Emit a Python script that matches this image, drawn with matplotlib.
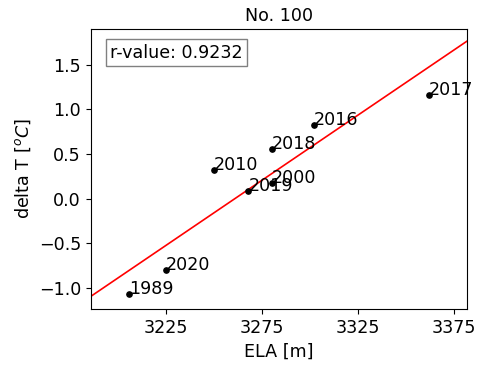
import numpy as np
import matplotlib
matplotlib.use("Agg")
import matplotlib.pyplot as plt

years = ["1989", "2020", "2010", "2019", "2000", "2018", "2016", "2017"]
ela = [3205.7, 3224.7, 3249.8, 3267.7, 3280.0, 3280.0, 3302.0, 3361.6]
delta_t = [-1.065, -0.796, 0.317, 0.082, 0.18, 0.557, 0.82, 1.163]
r_text = "r-value: 0.9232"
title = "No. 100"
xticks = [3225, 3275, 3325, 3375]

FS = 12.6
fig = plt.figure(figsize=(4.91, 3.65), dpi=100)
ax = fig.add_axes([0.185, 0.1534, 0.766, 0.767])

x = np.array(ela)
y = np.array(delta_t)
xlim = (x.min() - 20, x.max() + 20)
slope, intercept = np.polyfit(x, y, 1)
xl = np.array(xlim)
ax.plot(xl, slope * xl + intercept, color="red", lw=1.2)
ax.plot(x, y, "o", color="black", markersize=3.8)
for yr, xi, yi in zip(years, ela, delta_t):
    ax.annotate(yr, (xi, yi), fontsize=FS)

ax.set_xlim(*xlim)
ax.set_ylim(-1.235, 1.90)
ax.set_xticks(xticks)
ax.tick_params(labelsize=FS)
ax.set_xlabel("ELA [m]", fontsize=FS)
ax.set_ylabel(r"delta T [$^oC$]", fontsize=FS)
ax.set_title(title, fontsize=FS)
ax.text(0.052, 0.915, r_text, transform=ax.transAxes, fontsize=FS,
        va="center", ha="left",
        bbox=dict(boxstyle="square,pad=0.25", facecolor="white", edgecolor="gray"))

fig.savefig("out.png", dpi=100)
